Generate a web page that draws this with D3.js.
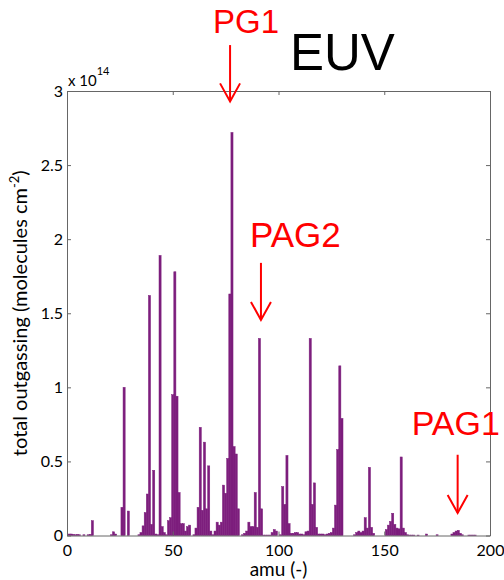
<!DOCTYPE html>
<html lang="en">
<head>
<meta charset="utf-8">
<script src="https://d3js.org/d3.v7.min.js"></script>
<title>EUV outgassing</title>
<style>
  body { margin: 0; background: #fff; }
  text { font-family: Lato, "Open Sans", sans-serif; }
</style>
</head>
<body>
<script>
// outgassing peaks (amu -> total outgassing, units of 1e14 molecules cm^-2); unlisted amu = 0
var peakAmu = [1, 2, 3, 4, 5, 6, 8, 10, 11, 12, 21, 22, 23,
  26, 27, 29, 34, 35, 36, 37, 38, 39, 40, 41, 42, 43, 44, 45, 46, 47, 48, 49,
  50, 51, 52, 53, 54, 55, 56, 57, 58, 60, 61, 62, 63, 64, 65, 66, 67, 68, 69,
  70, 71, 72, 73, 74, 75, 76, 77, 78, 79, 80, 81, 83, 84, 85, 86, 87, 88, 89,
  90, 91, 92, 93, 94, 95, 96, 97, 98, 99, 101, 102, 103, 104, 105, 106, 107, 108, 109,
  110, 111, 112, 113, 114, 115, 116, 117, 118, 119, 120, 121, 122, 123, 124, 125, 126, 127, 128, 129,
  130, 136, 137, 138, 139, 140, 141, 142, 143, 144, 145,
  151, 152, 153, 154, 155, 156, 157, 158, 159, 160, 161, 162, 163, 164, 166,
  170, 175, 182, 183, 184, 185, 186, 187, 190, 191, 192, 193];
var peakVal = [0.01, 0.01, 0.008, 0.005, 0.008, 0.005, 0.005, 0.005, 0.008, 0.10, 0.005, 0.025, 0.01,
  0.19, 1.00, 0.165, 0.005, 0.02, 0.065, 0.155, 0.28, 1.62, 0.075, 0.44, 0.01, 0.005, 1.89, 0.06, 0.02, 0.005, 0.10, 0.12,
  0.95, 1.78, 0.94, 0.29, 0.08, 0.08, 0.03, 0.06, 0.07, 0.005, 0.05, 0.19, 0.73, 0.17, 0.63, 0.18, 0.47, 0.03, 0.005,
  0.03, 0.09, 0.07, 0.09, 0.34, 0.285, 0.52, 1.63, 2.72, 0.60, 0.55, 0.18, 0.005, 0.015, 0.03, 0.09, 0.06, 0.06, 0.29,
  0.055, 1.33, 0.18, 0.003, 0.003, 0.003, 0.003, 0.02, 0.04, 0.03, 0.005, 0.33, 0.21, 0.54, 0.08, 0.015, 0.015, 0.02, 0.02,
  0.01, 0.01, 0.005, 0.025, 0.03, 1.33, 0.21, 0.355, 0.055, 0.01, 0.01, 0.01, 0.005, 0.01, 0.015, 0.02, 0.05, 0.205, 0.58, 1.145,
  0.79, 0.005, 0.02, 0.03, 0.02, 0.03, 0.12, 0.05, 0.46, 0.055, 0.015,
  0.04, 0.07, 0.095, 0.15, 0.075, 0.05, 0.045, 0.53, 0.05, 0.02, 0.005, 0.003, 0.003, 0.003, 0.003,
  0.01, 0.005, 0.01, 0.02, 0.03, 0.035, 0.015, 0.005, 0.003, 0.003, 0.003, 0.003];

var xTicks = [0, 50, 100, 150, 200];
var yTicks = [0, 0.5, 1, 1.5, 2, 2.5, 3];
var yTickLabels = ["0", "0.5", "1", "1.5", "2", "2.5", "3"];

// annotations: label, amu the arrow points at, arrow tip / tail value
var annLabel = ["PG1", "PAG2", "PAG1"];
var annAmu = [77.1, 91.7, 184.7];
var annTip = [2.93, 1.455, 0.152];
var annTail = [3.31, 1.84, 0.545];

var width = 504, height = 580;
var plotLeft = 67, plotRight = 490, plotTop = 91, plotBottom = 535.5;
var barColor = '#7d1e7d';

var svg = d3.select('body')
  .append('svg')
  .attr('width', width)
  .attr('height', height);

var x = d3.scaleLinear().domain([0, 200]).range([plotLeft, plotRight]);
var y = d3.scaleLinear().domain([0, 3]).range([plotBottom, plotTop]);

var data = peakAmu.map(function(a, i) { return {amu: a, v: peakVal[i]}; });

// bars (thin stroke in the fill colour closes the seams between neighbours)
svg.append('g')
  .selectAll('rect')
  .data(data)
  .join('rect')
  .attr('x', function(d) { return x(d.amu - 0.5); })
  .attr('width', function(d) { return x(d.amu + 0.5) - x(d.amu - 0.5); })
  .attr('y', function(d) { return y(d.v); })
  .attr('height', function(d) { return y(0) - y(d.v); })
  .attr('fill', barColor)
  .attr('stroke', barColor)
  .attr('stroke-width', 0.5);

// axes, MATLAB style box with inward ticks
var axisColor = '#666';
var tickLen = 4;
function styleAxis(g) {
  g.select('.domain').attr('stroke', axisColor);
  g.selectAll('.tick line').attr('stroke', axisColor);
  g.selectAll('.tick text').attr('fill', '#000')
    .style('font-family', 'Lato, "Open Sans", sans-serif').style('font-size', '16px');
}

svg.append('g')
  .attr('transform', 'translate(0,' + plotBottom + ')')
  .call(d3.axisBottom(x).tickValues(xTicks).tickSizeInner(-tickLen).tickSizeOuter(0).tickPadding(9))
  .call(styleAxis);

svg.append('g')
  .attr('transform', 'translate(0,' + plotTop + ')')
  .call(d3.axisTop(x).tickValues(xTicks).tickSizeInner(-tickLen).tickSizeOuter(0).tickFormat(''))
  .call(styleAxis);

svg.append('g')
  .attr('transform', 'translate(' + plotLeft + ',0)')
  .call(d3.axisLeft(y).tickValues(yTicks).tickSizeInner(-tickLen).tickSizeOuter(0).tickPadding(4)
    .tickFormat(function(d, i) { return yTickLabels[i]; }))
  .call(styleAxis);

svg.append('g')
  .attr('transform', 'translate(' + plotRight + ',0)')
  .call(d3.axisRight(y).tickValues(yTicks).tickSizeInner(-tickLen).tickSizeOuter(0).tickFormat(''))
  .call(styleAxis);

// exponent label
var expo = svg.append('text')
  .attr('x', plotLeft + 1)
  .attr('y', 86)
  .style('font-size', '15px');
expo.append('tspan').text('x 10');
expo.append('tspan').attr('dy', -11).style('font-size', '11px').text('14');

// axis titles
svg.append('text')
  .attr('x', (plotLeft + plotRight) / 2)
  .attr('y', 576)
  .attr('text-anchor', 'middle')
  .style('font-size', '19px')
  .text('amu (-)');

var yl = svg.append('text')
  .attr('transform', 'translate(27,' + ((plotTop + plotBottom) / 2) + ') rotate(-90)')
  .attr('text-anchor', 'middle')
  .style('font-size', '20px');
yl.append('tspan').text('total outgassing (molecules cm');
yl.append('tspan').attr('dy', -8).style('font-size', '13px').text('-2');
yl.append('tspan').attr('dy', 8).text(')');

// title
svg.append('text')
  .attr('x', 290)
  .attr('y', 70)
  .style('font-family', '"Liberation Sans", Arial, sans-serif')
  .style('font-size', '51px')
  .attr('fill', '#000')
  .text('EUV');

// annotations
var annTextDx = [-17, -11, -46];
var annTextY = [33, 247, 435];
var annSize = [33, 35, 34];
annLabel.forEach(function(lab, i) {
  var ax = x(annAmu[i]), ty = y(annTip[i]), tl = y(annTail[i]);
  svg.append('text')
    .attr('x', ax + annTextDx[i])
    .attr('y', annTextY[i])
    .attr('fill', '#ff0000')
    .style('font-family', '"Liberation Sans", Arial, sans-serif')
    .style('font-size', annSize[i] + 'px')
    .text(lab);
  svg.append('line')
    .attr('x1', ax).attr('x2', ax)
    .attr('y1', tl).attr('y2', ty)
    .attr('stroke', '#ff0000').attr('stroke-width', 2);
  svg.append('path')
    .attr('d', 'M' + (ax - 10) + ',' + (ty - 18) + 'L' + ax + ',' + ty + 'L' + (ax + 10) + ',' + (ty - 18))
    .attr('fill', 'none')
    .attr('stroke', '#ff0000').attr('stroke-width', 2);
});
</script>
</body>
</html>
